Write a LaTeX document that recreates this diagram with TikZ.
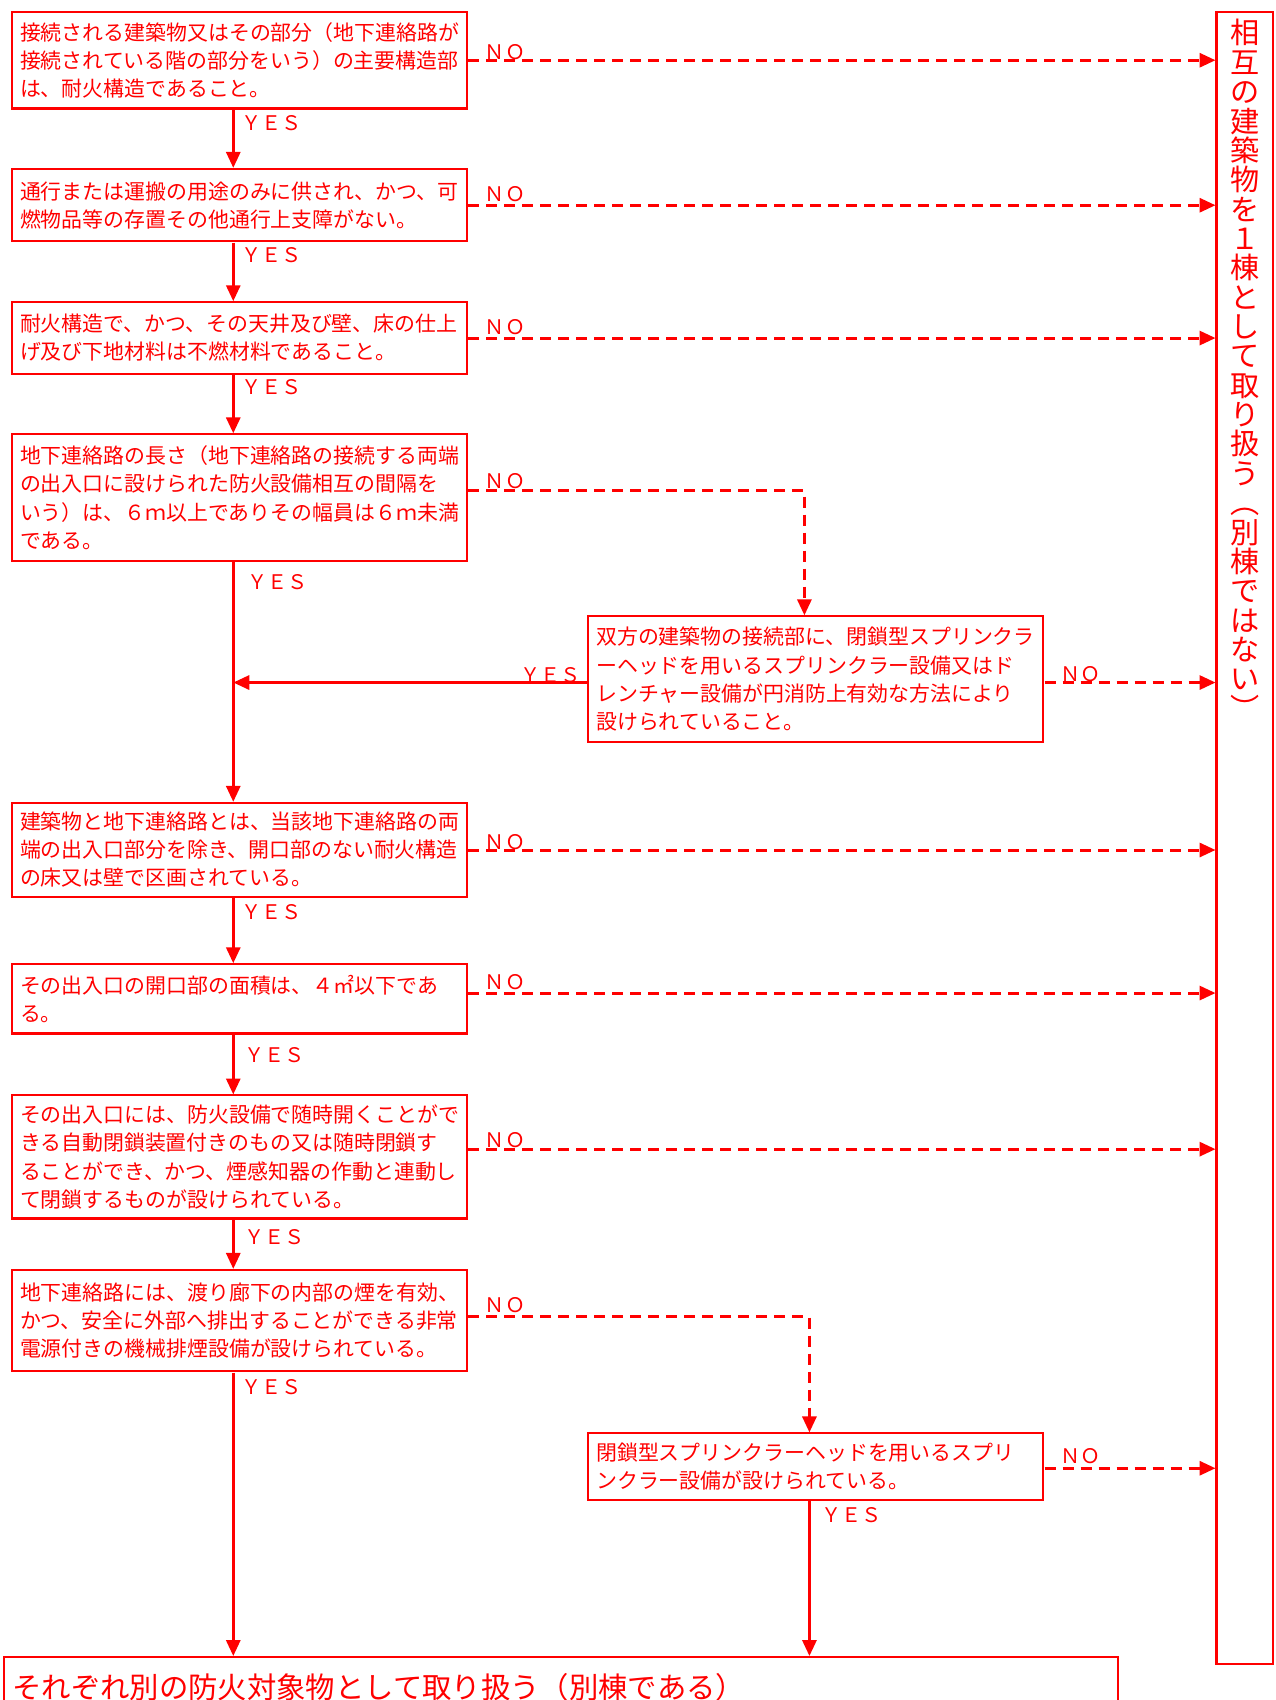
\documentclass[tikz,border=0pt]{standalone}
\usepackage{fontspec}
\newfontfamily\jp{Noto Sans CJK JP}
\usetikzlibrary{arrows.meta,calc}
\tikzset{
  qbox/.style={draw=red, line width=1.1pt, text=red, font=\jp\fontsize{10.4}{14}\selectfont,
    align=left, text width=218.3pt, inner xsep=4pt, inner ysep=0pt, anchor=north west},
  yesarrow/.style={red, line width=1.5pt, -{Triangle[length=8pt,width=7pt]}},
  noarrow/.style={red, line width=1.5pt, dash pattern=on 5.5pt off 3.5pt, -{Triangle[length=8pt,width=7pt]}},
  lbl/.style={text=red, font=\jp\fontsize{10}{12}\selectfont, inner sep=0pt, anchor=west, yshift=-1pt},
}
\begin{document}
\begin{tikzpicture}[x=0.5pt,y=-0.5pt,scale=1.0053,every node/.append style={transform shape}]
\useasboundingbox (0,0) rectangle (1269.27,1691.04);
\clip (0,0) rectangle (1269.27,1691.04);

% decision boxes
\node[qbox, minimum height=48pt] (b1) at (10.8,10.8)
  {接続される建築物又はその部分（地下連絡路が\\接続されている階の部分をいう）の主要構造部\\は、耐火構造であること。};
\node[qbox, minimum height=36pt] (b2) at (10.8,167)
  {通行または運搬の用途のみに供され、かつ、可\\燃物品等の存置その他通行上支障がない。};
\node[qbox, minimum height=35.5pt] (b3) at (10.8,299.6)
  {耐火構造で、かつ、その天井及び壁、床の仕上\\げ及び下地材料は不燃材料であること。};
\node[qbox, minimum height=63pt] (b4) at (10.8,431)
  {地下連絡路の長さ（地下連絡路の接続する両端\\の出入口に設けられた防火設備相互の間隔を\\いう）は、６ｍ以上でありその幅員は６ｍ未満\\である。};
\node[qbox, minimum height=62.5pt] (b5) at (584,612)
  {双方の建築物の接続部に、閉鎖型スプリンクラ\\ーヘッドを用いるスプリンクラー設備又はド\\レンチャー設備が円消防上有効な方法により\\設けられていること。};
\node[qbox, minimum height=46.75pt] (b6) at (10.8,797.5)
  {建築物と地下連絡路とは、当該地下連絡路の両\\端の出入口部分を除き、開口部のない耐火構造\\の床又は壁で区画されている。};
\node[qbox, minimum height=34.5pt] (b7) at (10.8,958)
  {その出入口の開口部の面積は、４㎡以下であ\\る。};
\node[qbox, minimum height=61.25pt] (b8) at (10.8,1088.5)
  {その出入口には、防火設備で随時開くことがで\\きる自動閉鎖装置付きのもの又は随時閉鎖す\\ることができ、かつ、煙感知器の作動と連動し\\て閉鎖するものが設けられている。};
\node[qbox, minimum height=50.5pt] (b9) at (10.8,1262)
  {地下連絡路には、渡り廊下の内部の煙を有効、\\かつ、安全に外部へ排出することができる非常\\電源付きの機械排煙設備が設けられている。};
\node[qbox, minimum height=33pt] (b10) at (584,1424.6)
  {閉鎖型スプリンクラーヘッドを用いるスプリ\\ンクラー設備が設けられている。};

% right result box
\node[draw=red, line width=1.1pt, minimum width=28pt, minimum height=821.6pt, inner sep=0pt, anchor=north] (rbox) at (1238,10.8) {};
\node[text=red, font=\jp\fontsize{14.5}{14.6}\selectfont, align=center, inner sep=0pt, anchor=north] (rtext) at (1238,19)
  {相\\互\\の\\建\\築\\物\\を\\１\\棟\\と\\し\\て\\取\\り\\扱\\う\\︵\\別\\棟\\で\\は\\な\\い\\︶};

% bottom result box
\node[draw=red, line width=1.1pt, text=red, font=\jp\fontsize{14.6}{16}\selectfont, anchor=north west,
  text width=546pt, inner xsep=4pt, minimum height=30pt, align=left] (final) at (3.2,1647)
  {それぞれ別の防火対象物として取り扱う（別棟である）};

% columns
\coordinate (cx) at (232,0);
\coordinate (cr) at (805,0);
\coordinate (cq) at (800,0);

% YES arrows
\draw[yesarrow] (b1.south -| cx) -- (b2.north -| cx);
\draw[yesarrow] (b2.south -| cx) -- (b3.north -| cx);
\draw[yesarrow] (b3.south -| cx) -- (b4.north -| cx);
\draw[yesarrow] (b4.south -| cx) -- (b6.north -| cx);
\draw[yesarrow] ([yshift=-1.6pt]b5.west) -- ([yshift=-1.6pt]b5.west -| cx);
\draw[yesarrow] (b6.south -| cx) -- (b7.north -| cx);
\draw[yesarrow] (b7.south -| cx) -- (b8.north -| cx);
\draw[yesarrow] (b8.south -| cx) -- (b9.north -| cx);
\draw[yesarrow] (b9.south -| cx) -- (final.north -| cx);
\draw[yesarrow] (b10.south -| cr) -- (final.north -| cr);

% NO arrows
\draw[noarrow] (b1.east) -- (b1.east -| rbox.west);
\draw[noarrow] (b2.east) -- (b2.east -| rbox.west);
\draw[noarrow] (b3.east) -- (b3.east -| rbox.west);
\draw[noarrow] ([yshift=3.5pt]b4.east) -- ([yshift=3.5pt]b4.east -| cq) -- (b5.north -| cq);
\draw[noarrow] ([yshift=-1.6pt]b5.east) -- ([yshift=-1.6pt]b5.east -| rbox.west);
\draw[noarrow] (b6.east) -- (b6.east -| rbox.west);
\draw[noarrow] ([yshift=3pt]b7.east) -- ([yshift=3pt]b7.east -| rbox.west);
\draw[noarrow] ([yshift=4pt]b8.east) -- ([yshift=4pt]b8.east -| rbox.west);
\draw[noarrow] ([yshift=2pt]b9.east) -- ([yshift=2pt]b9.east -| cr) -- (b10.north -| cr);
\draw[noarrow] ([yshift=-0.75pt]b10.east) -- ([yshift=-0.75pt]b10.east -| rbox.west);

% labels
\node[lbl] (y1) at (240,120.7) {ＹＥＳ};
\node[lbl] (y2) at (240,252.2) {ＹＥＳ};
\node[lbl] (y3) at (240,382.6) {ＹＥＳ};
\node[lbl] (y4) at (245.7,576.6) {ＹＥＳ};
\node[lbl] (y5) at (517,670) {ＹＥＳ};
\node[lbl] (y6) at (240,905.3) {ＹＥＳ};
\node[lbl] (y7) at (242.5,1047.5) {ＹＥＳ};
\node[lbl] (y8) at (242.5,1228.6) {ＹＥＳ};
\node[lbl] (y9) at (240,1377.3) {ＹＥＳ};
\node[lbl] (y10) at (817,1505.6) {ＹＥＳ};

\node[lbl] (n1) at (482,49.6) {ＮＯ};
\node[lbl] (n2) at (482,190.8) {ＮＯ};
\node[lbl] (n3) at (482,323.3) {ＮＯ};
\node[lbl] (n4) at (482,476.3) {ＮＯ};
\node[lbl] (n5) at (1054,668.2) {ＮＯ};
\node[lbl] (n6) at (482,835.2) {ＮＯ};
\node[lbl] (n7) at (482,975.3) {ＮＯ};
\node[lbl] (n8) at (482,1131.6) {ＮＯ};
\node[lbl] (n9) at (482,1296.5) {ＮＯ};
\node[lbl] (n10) at (1054,1446.3) {ＮＯ};
\end{tikzpicture}
\end{document}
